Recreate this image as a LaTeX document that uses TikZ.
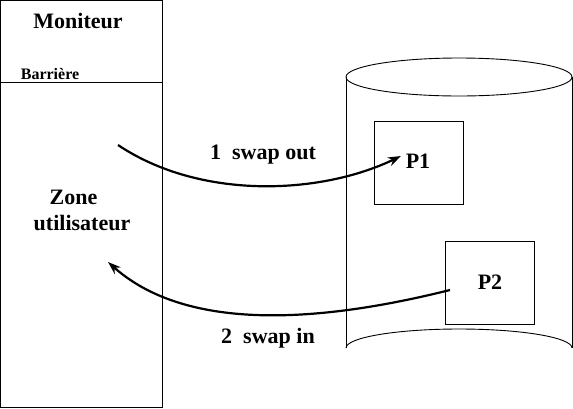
\documentclass[tikz,border=0pt]{standalone}
\usepackage{fontspec}
\setmainfont{Liberation Serif}
\usetikzlibrary{arrows.meta}
\begin{document}
\begin{tikzpicture}[x=1pt,y=-1pt,
  thin line/.style={line width=0.9pt},
  big/.style={font=\bfseries\fontsize{22}{24}\selectfont},
  small/.style={font=\bfseries\fontsize{16}{18}\selectfont},
  swap/.style={line width=2.2pt,-{Stealth[length=13pt,width=9pt]}},
  procbox/.style={draw,thin line,minimum width=89pt,minimum height=83pt,inner sep=0pt}]
\useasboundingbox (0,0) rectangle (573,408);
% left memory
\draw[thin line] (0.5,0.5) rectangle (162,407.5);
\draw[thin line] (0.5,82) -- (162,82);
\node[big] (mon) at (78,21) {Moniteur};
\node[small] (bar) at (50,74) {Barrière};
\node[big,align=left] (zone) at (82,210) {\hspace{16pt}Zone\\[2pt]utilisateur};
% disk
\draw[thin line] (459,77) ellipse [x radius=113, y radius=19];
\draw[thin line] (346,77) -- (346,348);
\draw[thin line] (572,77) -- (572,348);
\draw[thin line] (346,348) arc[start angle=180,end angle=360,x radius=113,y radius=19];
\node[procbox] (b1) at (418.5,162.5) {};
\node[procbox] (b2) at (490,282.5) {};
\node[big] (p1) at (418,161) {P1};
\node[big] (p2) at (490,282) {P2};
% arrows
\coordinate (s1) at (118,145);
\coordinate (e1) at (401,156);
\coordinate (s2) at (450,290);
\coordinate (e2) at (108,262);
\draw[swap] (s1) .. controls (200,200) and (320,195) .. (e1);
\draw[swap] (s2) .. controls (330,320) and (190,335) .. (e2);
\node[big] (l1) at (263,155) {1\ \ swap out};
\node[big] (l2) at (268,338) {2\ \ swap in};
\end{tikzpicture}
\end{document}
